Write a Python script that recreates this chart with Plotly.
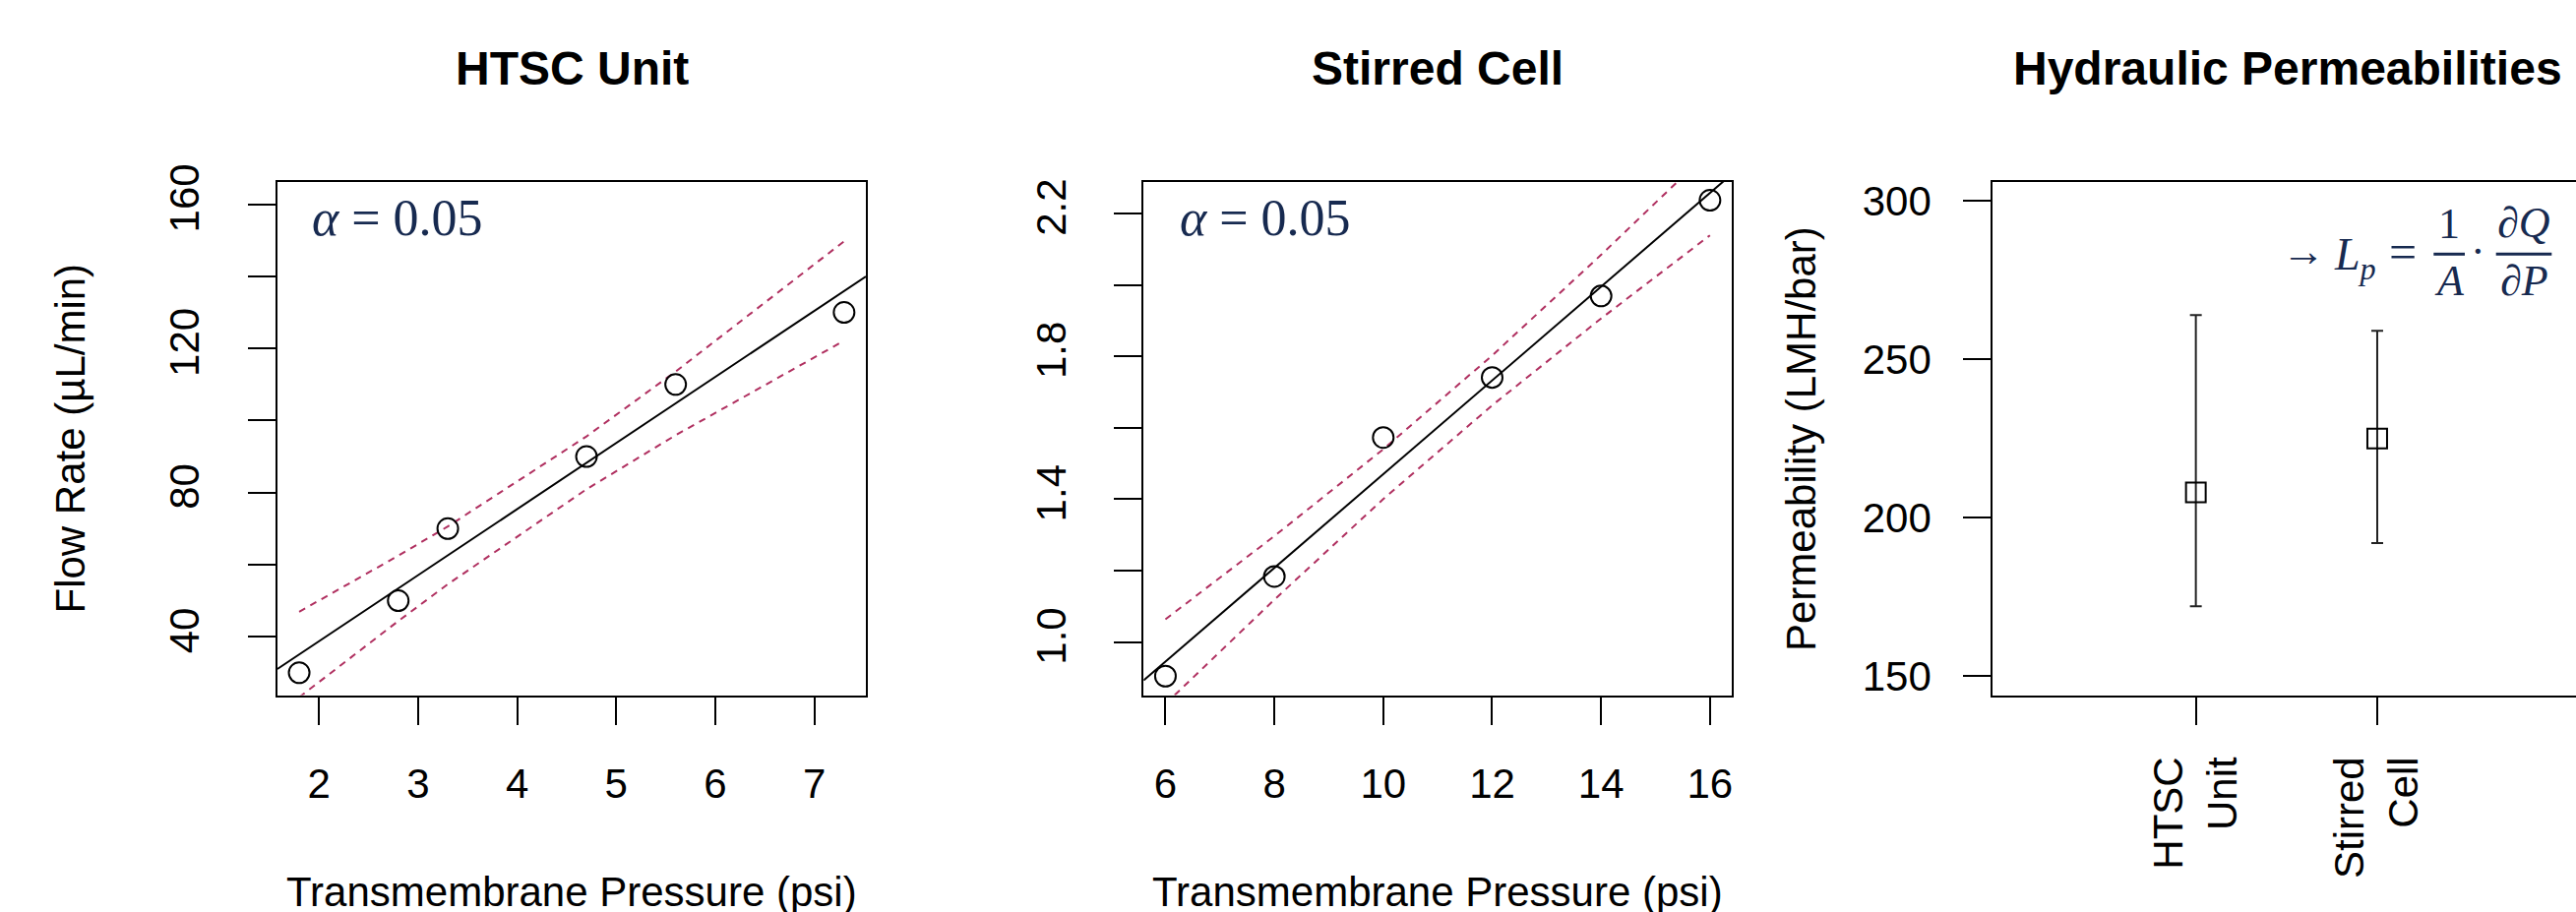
import numpy as np
import plotly.graph_objects as go

# ---------------- data ----------------
htsc_tmp = [1.8, 2.8, 3.3, 4.7, 5.6, 7.3]          # psi
htsc_flow = [30, 50, 70, 90, 110, 130]              # uL/min
stirred_tmp = [6, 8, 10, 12, 14, 16]                # psi
stirred_flow = [0.905, 1.184, 1.573, 1.741, 1.969, 2.237]
perm_labels = ["HTSC<br>Unit", "Stirred<br>Cell"]
perm_pos = [1, 2]
perm_mean = [208, 225]
perm_lower = [172, 192]
perm_upper = [264, 259]

T_975_DF4 = 2.776445  # Student t quantile (0.975, df = 4)

W, H = 2618, 927
NAVY = "#172a50"
MAROON = "#B03060"
SANS = "Liberation Sans"
SERIF = "Liberation Serif"


def px(x):
    return x / W


def py(y):
    return 1 - y / H


def fit(x, y):
    x = np.asarray(x, float)
    y = np.asarray(y, float)
    n = len(x)
    slope, intercept = np.polyfit(x, y, 1)
    resid = y - (intercept + slope * x)
    s = np.sqrt(np.sum(resid ** 2) / (n - 2))
    sxx = np.sum((x - x.mean()) ** 2)
    xs = np.sort(x)
    yhat = intercept + slope * xs
    se = s * np.sqrt(1 / n + (xs - x.mean()) ** 2 / sxx)
    return slope, intercept, xs, yhat - T_975_DF4 * se, yhat + T_975_DF4 * se


fig = go.Figure()

ranges = {
    1: dict(x=[1.58, 7.52], y=[23.8, 166.2]),
    2: dict(x=[5.6, 16.4], y=[0.852, 2.288]),
}

for i, (xd, yd) in enumerate([(htsc_tmp, htsc_flow), (stirred_tmp, stirred_flow)], start=1):
    xa = "x" if i == 1 else "x%d" % i
    ya = "y" if i == 1 else "y%d" % i
    slope, intercept, xs, lo, hi = fit(xd, yd)
    xr = ranges[i]["x"]
    fig.add_trace(go.Scatter(x=xr, y=[intercept + slope * v for v in xr], mode="lines",
                             line=dict(color="black", width=2), xaxis=xa, yaxis=ya,
                             showlegend=False, hoverinfo="skip"))
    for band in (lo, hi):
        fig.add_trace(go.Scatter(x=xs, y=band, mode="lines",
                                 line=dict(color=MAROON, width=2, dash="7px,6px"),
                                 xaxis=xa, yaxis=ya, showlegend=False))
    fig.add_trace(go.Scatter(x=xd, y=yd, mode="markers",
                             marker=dict(symbol="circle-open", size=21, color="black",
                                         line=dict(width=2, color="black")),
                             xaxis=xa, yaxis=ya, showlegend=False, cliponaxis=False))

# permeability panel
fig.add_trace(go.Scatter(
    x=perm_pos, y=perm_mean, mode="markers",
    marker=dict(symbol="square-open", size=20, color="black", line=dict(width=2, color="black")),
    error_y=dict(type="data", symmetric=False,
                 array=[u - m for u, m in zip(perm_upper, perm_mean)],
                 arrayminus=[m - l for m, l in zip(perm_mean, perm_lower)],
                 color="#222222", thickness=2, width=6),
    xaxis="x3", yaxis="y3", showlegend=False))

ydom = [py(706.5), py(185)]
axis_common = dict(showline=True, linecolor="black", linewidth=2, ticks="outside",
                   ticklen=28, tickwidth=2, tickcolor="black", showgrid=False,
                   zeroline=False, automargin=False,
                   tickfont=dict(family=SANS, size=42, color="black"))
minor_common = dict(ticks="outside", ticklen=28, tickwidth=2, tickcolor="black", showgrid=False)

fig.update_layout(
    width=W, height=H, margin=dict(l=0, r=0, t=0, b=0, autoexpand=False),
    paper_bgcolor="white", plot_bgcolor="white",
    xaxis=dict(domain=[px(281.9), px(880)], range=ranges[1]["x"], mirror=True,
               tickvals=[2, 3, 4, 5, 6, 7], anchor="y", ticklabelstandoff=24, **axis_common),
    yaxis=dict(domain=ydom, range=ranges[1]["y"], mirror=True,
               tickvals=[40, 80, 120, 160], minor=dict(tickvals=[60, 100, 140], **minor_common),
               tickangle=-90, anchor="x", ticklabelstandoff=33, **axis_common),
    xaxis2=dict(domain=[px(1162.3), px(1760)], range=ranges[2]["x"], mirror=True,
                tickvals=[6, 8, 10, 12, 14, 16], anchor="y2", ticklabelstandoff=24, **axis_common),
    yaxis2=dict(domain=ydom, range=ranges[2]["y"], mirror=True,
                tickvals=[1.0, 1.4, 1.8, 2.2], ticktext=["1.0", "1.4", "1.8", "2.2"],
                minor=dict(tickvals=[1.2, 1.6, 2.0], **minor_common),
                tickangle=-90, anchor="x2", ticklabelstandoff=33, **axis_common),
    xaxis3=dict(domain=[px(2025.2), 1.0], range=[-0.12, 3.096], mirror=True,
                tickvals=perm_pos, ticktext=perm_labels, tickangle=-90, anchor="y3",
                ticklabelstandoff=16, **axis_common),
    yaxis3=dict(domain=ydom, range=[144, 306], mirror=False,
                tickvals=[150, 200, 250, 300], anchor="x3", ticklabelstandoff=24, **axis_common),
)

ann = []
# titles
for txt, cx in [("HTSC Unit", 581), ("Stirred Cell", 1461), ("Hydraulic Permeabilities", 2325)]:
    ann.append(dict(text="<b>%s</b>" % txt, x=px(cx), y=py(69.5), xref="paper", yref="paper",
                    xanchor="center", yanchor="middle", showarrow=False,
                    font=dict(family=SANS, size=48, color="black")))
# x axis titles
for cx in (581, 1461):
    ann.append(dict(text="Transmembrane Pressure (psi)", x=px(cx), y=py(906), xref="paper",
                    yref="paper", xanchor="center", yanchor="middle", showarrow=False,
                    font=dict(family=SANS, size=42, color="black")))
# y axis titles
ann.append(dict(text="Flow Rate (µL/min)", x=px(71.8), y=py(445.7), xref="paper", yref="paper",
                xanchor="center", yanchor="middle", textangle=-90, showarrow=False,
                font=dict(family=SANS, size=42, color="black")))
ann.append(dict(text="Permeability (LMH/bar)", x=px(1830.3), y=py(445.7), xref="paper",
                yref="paper", xanchor="center", yanchor="middle", textangle=-90,
                showarrow=False, font=dict(family=SANS, size=42, color="black")))
# alpha labels
for lx in (314.6, 1196.8):
    ann.append(dict(text="<i>α</i> = 0.05", x=px(lx), y=py(221.7), xref="paper", yref="paper",
                    xanchor="left", yanchor="middle", showarrow=False,
                    font=dict(family=SERIF, size=52, color=NAVY)))
# formula
fml = [
    ("→", 2340.5, 256, "center", 44),
    ("<i>L</i><sub><i>p</i></sub>", 2370.0, 262, "left", 46),
    ("=", 2442.3, 256, "center", 50),
    ("1", 2489.3, 228, "center", 44),
    ("<i>A</i>", 2489.3, 285, "center", 44),
    ("·", 2518, 256, "center", 44),
    ("∂<i>Q</i>", 2565, 226, "center", 44),
    ("∂<i>P</i>", 2565, 285, "center", 44),
]
for txt, x, y, xa, fs in fml:
    ann.append(dict(text=txt, x=px(x), y=py(y), xref="paper", yref="paper", xanchor=xa,
                    yanchor="middle", showarrow=False,
                    font=dict(family=SERIF, size=fs, color=NAVY)))
fig.update_layout(annotations=ann)

shapes = []
for x0, x1 in [(2473.3, 2505), (2536.7, 2593.3)]:
    shapes.append(dict(type="line", xref="paper", yref="paper", x0=px(x0), x1=px(x1),
                       y0=py(258.3), y1=py(258.3), line=dict(color=NAVY, width=3)))
fig.update_layout(shapes=shapes)

fig.write_html("out.html", config={"displayModeBar": False},
               post_script="document.body.style.margin='0px';document.body.style.overflow='hidden';")
